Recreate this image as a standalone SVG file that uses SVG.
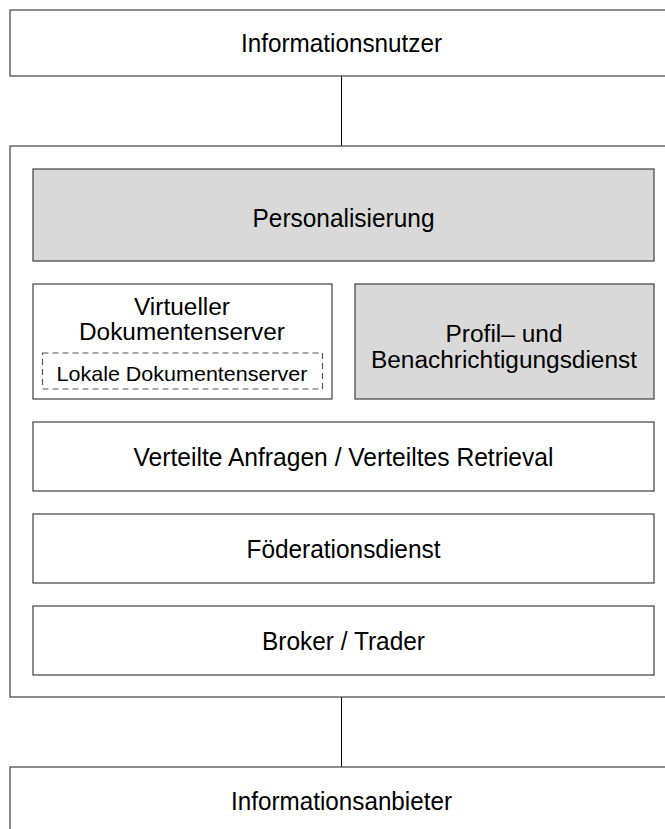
<svg xmlns="http://www.w3.org/2000/svg" width="665" height="829" viewBox="0 0 665 829">
<style>
rect{stroke:#404040;stroke-width:1.2;fill:#fff}
rect.g{fill:#d9d9d9}
rect.d{fill:none;stroke:#555;stroke-dasharray:6 4}
line{stroke:#000;stroke-width:1}
text{font-family:"Liberation Sans",Arial,sans-serif;font-size:25px;fill:#000;text-anchor:middle}
text.t{font-size:23.5px}
text.s{font-size:21px}
</style>
<rect x="0" y="0" width="665" height="829" style="fill:#fff;stroke:none"/>
<g id="connectors">
<line x1="341.5" y1="76" x2="341.5" y2="146"/>
<line x1="181.5" y1="261" x2="181.5" y2="284"/>
<line x1="502.5" y1="261" x2="502.5" y2="284"/>
<line x1="181.5" y1="399" x2="181.5" y2="422"/>
<line x1="502.5" y1="399" x2="502.5" y2="422"/>
<line x1="341.5" y1="491" x2="341.5" y2="514"/>
<line x1="341.5" y1="583" x2="341.5" y2="606"/>
<line x1="341.5" y1="697" x2="341.5" y2="767"/>
</g>
<g id="nutzer">
<rect x="10" y="10" width="664" height="66"/>
<text x="341.5" y="52" textLength="201" lengthAdjust="spacingAndGlyphs">Informationsnutzer</text>
</g>
<g id="system">
<rect x="10" y="146" width="664" height="551"/>
</g>
<g id="personalisierung">
<rect class="g" x="33" y="169" width="621" height="92"/>
<text x="343.5" y="227" textLength="182" lengthAdjust="spacingAndGlyphs">Personalisierung</text>
</g>
<g id="virtueller">
<rect x="33" y="284" width="299" height="115"/>
<text class="t" x="182" y="315" textLength="96" lengthAdjust="spacingAndGlyphs">Virtueller</text>
<text class="t" x="182" y="340" textLength="206" lengthAdjust="spacingAndGlyphs">Dokumentenserver</text>
</g>
<g id="lokale">
<rect class="d" x="42.5" y="353" width="280" height="36"/>
<text class="s" x="182" y="381" textLength="251" lengthAdjust="spacingAndGlyphs">Lokale Dokumentenserver</text>
</g>
<g id="profil">
<rect class="g" x="355" y="284" width="299" height="115"/>
<text class="t" x="504" y="342" textLength="117" lengthAdjust="spacingAndGlyphs">Profil– und</text>
<text class="t" x="504" y="368" textLength="266" lengthAdjust="spacingAndGlyphs">Benachrichtigungsdienst</text>
</g>
<g id="verteilt">
<rect x="33" y="422" width="621" height="69"/>
<text x="343.5" y="466" textLength="420" lengthAdjust="spacingAndGlyphs">Verteilte Anfragen / Verteiltes Retrieval</text>
</g>
<g id="foederation">
<rect x="33" y="514" width="621" height="69"/>
<text x="343.5" y="558" textLength="194" lengthAdjust="spacingAndGlyphs">Föderationsdienst</text>
</g>
<g id="broker">
<rect x="33" y="606" width="621" height="69"/>
<text x="343.5" y="650" textLength="163" lengthAdjust="spacingAndGlyphs">Broker / Trader</text>
</g>
<g id="anbieter">
<rect x="10" y="767" width="664" height="80"/>
<text x="341.5" y="810" textLength="221" lengthAdjust="spacingAndGlyphs">Informationsanbieter</text>
</g>
</svg>
